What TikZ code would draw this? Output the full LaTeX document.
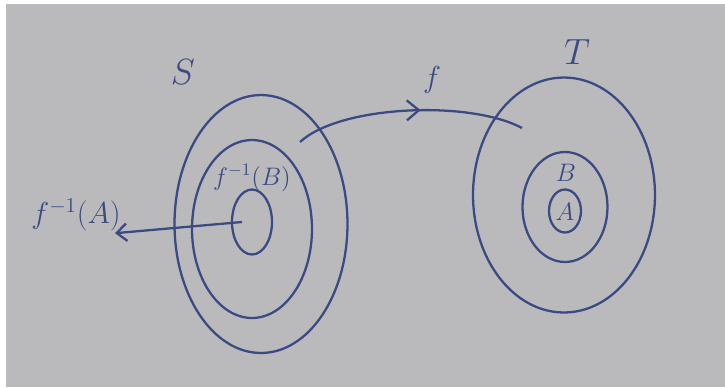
\documentclass[tikz,border=0pt]{standalone}
\usepackage{tikz}
\usetikzlibrary{shapes.geometric,arrows.meta,decorations.markings}
\definecolor{Ink}{HTML}{3B4A82}
\definecolor{Paper}{HTML}{BABABD}

\begin{document}
\begin{tikzpicture}[x=0.02cm, y=-0.02cm,
  set/.style={ellipse, draw=Ink, line width=1.3pt, inner sep=0pt},
  lab/.style={text=Ink, inner sep=1pt, font=\LARGE},
  ink/.style={draw=Ink, line width=1.3pt}]
\useasboundingbox (0,0) rectangle (725,387);
\fill[white] (0,0) rectangle (725,387);
\fill[Paper] (6,4) rectangle (725,387);

% set S and its parts
\node[set, minimum width=3.46cm, minimum height=5.16cm] (Sout) at (261,224) {};
\node[set, minimum width=2.4cm, minimum height=3.56cm] (Smid) at (252,229) {};
\node[set, minimum width=0.8cm, minimum height=1.3cm] (Sin) at (252,222) {};
% set T and its parts
\node[set, minimum width=3.64cm, minimum height=4.7cm] (Tout) at (564,195) {};
\node[set, minimum width=1.7cm, minimum height=2.2cm] (Tmid) at (565,207) {};
\node[set, minimum width=0.64cm, minimum height=0.86cm] (Tin) at (565,211) {};

% labels
\node[lab, font=\huge] (Slab) at (183,72) {$S$};
\node[lab, font=\huge] (Tlab) at (577,52) {$T$};
\node[lab] (flab) at (432,80) {$f$};
\node[lab, font=\Large] (finvB) at (252,178) {$f^{-1}(B)$};
\node[lab] (finvA) at (76,215) {$f^{-1}(A)$};
\node[lab, font=\Large] (Blab) at (566,173) {$B$};
\node[lab, font=\Large] (Alab) at (565,212) {$A$};

% the map f
\coordinate (fstart) at (300,142);
\coordinate (fend) at (522,128);
\draw[ink, decoration={markings, mark=at position 0.55 with {\arrow{Straight Barb[length=2.4mm, width=4mm]}}}, postaction={decorate}]
  (fstart) .. controls (340,105) and (470,100) .. (fend);

\draw[ink, -{Straight Barb[length=2mm, width=3.5mm]}] ([xshift=-2mm]Sin.center) -- (finvA.-25);
\end{tikzpicture}
\end{document}
